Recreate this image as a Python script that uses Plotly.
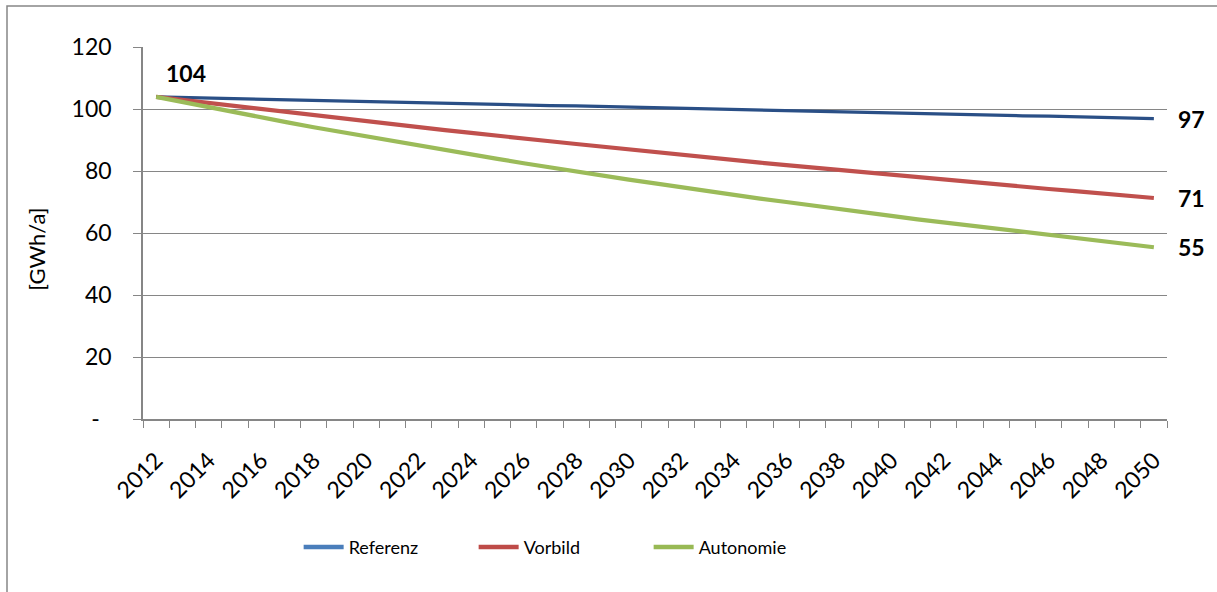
import plotly.graph_objects as go

# Annual energy demand scenarios, 2012-2050
years = list(range(2012, 2051))

referenz = [103.9, 103.7, 103.5, 103.3, 103.2, 103.0, 102.8, 102.6, 102.4, 102.2,
            102.1, 101.9, 101.7, 101.5, 101.3, 101.1, 101.0, 100.8, 100.6, 100.4,
            100.2, 100.0, 99.9, 99.7, 99.5, 99.3, 99.1, 98.9, 98.8, 98.6,
            98.4, 98.2, 98.0, 97.8, 97.7, 97.5, 97.3, 97.1, 96.9]

vorbild = [103.9, 102.9, 101.9, 100.9, 99.9, 98.9, 97.9, 96.9, 96.0, 95.0,
           94.1, 93.2, 92.3, 91.3, 90.4, 89.6, 88.7, 87.8, 86.9, 86.1,
           85.2, 84.4, 83.6, 82.7, 81.9, 81.1, 80.3, 79.5, 78.7, 78.0,
           77.2, 76.4, 75.7, 74.9, 74.2, 73.5, 72.7, 72.0, 71.3]

autonomie = [103.9, 102.2, 100.5, 98.9, 97.3, 95.7, 94.1, 92.6, 91.1, 89.6,
             88.1, 86.7, 85.2, 83.9, 82.5, 81.1, 79.8, 78.5, 77.2, 76.0,
             74.7, 73.5, 72.3, 71.1, 70.0, 68.8, 67.7, 66.6, 65.5, 64.4,
             63.4, 62.3, 61.3, 60.3, 59.3, 58.3, 57.3, 56.4, 55.4]

series = [
    ("Referenz", referenz, "#2A4F86", "#4A7EBB", 3.2),
    ("Vorbild", vorbild, "#C0504D", "#BE4B48", 4.2),
    ("Autonomie", autonomie, "#9BBB59", "#98B954", 4.2),
]

y_ticks = [0, 20, 40, 60, 80, 100, 120]
y_ticktext = ["-\u00a0\u00a0", "20", "40", "60", "80", "100", "120"]
x_ticks = list(range(2012, 2051, 2))

FONT = "Lato, Carlito, Calibri, sans-serif"
GRID = "#868686"

fig = go.Figure()

for name, vals, line_col, legend_col, width in series:
    fig.add_trace(go.Scatter(
        x=years, y=vals, mode="lines", name=name,
        line=dict(color=line_col, width=width),
        showlegend=False, hoverinfo="x+y+name",
    ))

# legend entries
for name, vals, line_col, legend_col, width in series:
    fig.add_trace(go.Scatter(
        x=[None], y=[None], mode="lines", name=name,
        line=dict(color=legend_col, width=4.5),
    ))

annotations = []
# start value label
annotations.append(dict(
    x=years[0], y=referenz[0], xref="x", yref="y",
    text="<b>%d</b>" % round(referenz[0]), showarrow=False,
    xanchor="left", yanchor="bottom", xshift=8, yshift=8,
    font=dict(family=FONT, size=23, color="#000000"),
))
# end value labels
for vals in (referenz, vorbild, autonomie):
    annotations.append(dict(
        x=years[-1], y=vals[-1], xref="x", yref="y",
        text="<b>%d</b>" % round(vals[-1]), showarrow=False,
        xanchor="left", yanchor="middle", xshift=22,
        font=dict(family=FONT, size=23, color="#000000"),
    ))
# y-axis title
annotations.append(dict(
    x=-0.1035, y=0.455, xref="paper", yref="paper",
    text="[GWh/a]", showarrow=False, textangle=-90,
    xanchor="center", yanchor="middle",
    font=dict(family=FONT, size=22, color="#000000"),
))

fig.update_layout(
    width=1217, height=592,
    margin=dict(l=143, r=50, t=47, b=173),
    paper_bgcolor="white", plot_bgcolor="white",
    font=dict(family=FONT, color="#000000"),
    annotations=annotations,
    legend=dict(
        orientation="h", x=0.152, y=-0.345, xanchor="left", yanchor="middle",
        font=dict(family=FONT, size=18, color="#000000"),
        entrywidth=120, entrywidthmode="pixels",
        bgcolor="rgba(0,0,0,0)", itemwidth=40,
    ),
    shapes=[
        # outer chart frame
        dict(type="rect", xref="paper", yref="paper",
             x0=-136 / 1024, x1=1.2, y0=-0.6, y1=1 + 41 / 372.3,
             line=dict(color=GRID, width=1.5), layer="below"),
    ],
)

fig.update_xaxes(
    range=[2011.5, 2050.5], tickvals=x_ticks, ticktext=[str(v) for v in x_ticks],
    tickangle=-45, ticks="", showgrid=False, zeroline=False,
    showline=True, linecolor=GRID, linewidth=1.5,
    tickfont=dict(family=FONT, size=23, color="#000000"),
    ticklabelstandoff=17,
    minor=dict(tick0=2011.5, dtick=1, ticks="outside", ticklen=7,
               tickcolor=GRID, tickwidth=1.3, showgrid=False),
)
fig.update_yaxes(
    range=[0, 120], tickvals=y_ticks, ticktext=y_ticktext,
    ticks="outside", ticklen=8, tickcolor=GRID, tickwidth=1.3,
    showgrid=True, gridcolor=GRID, gridwidth=1.3, zeroline=False,
    showline=True, linecolor=GRID, linewidth=1.5,
    tickfont=dict(family=FONT, size=23, color="#000000"),
    ticklabelstandoff=17,
)

fig.write_html("out.html")
